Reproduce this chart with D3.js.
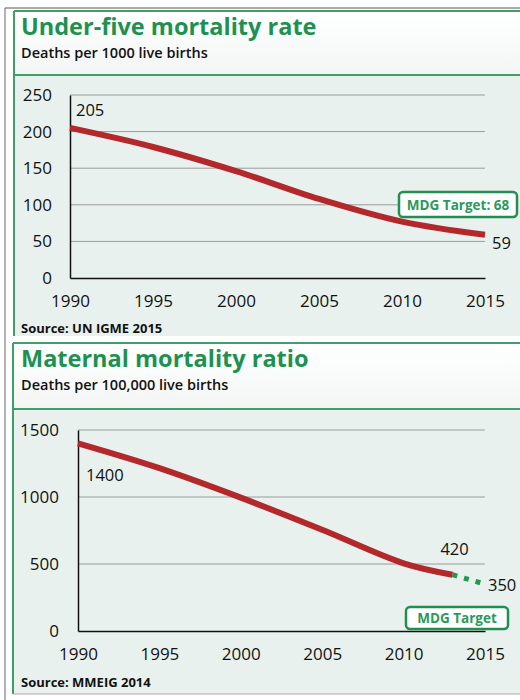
<!DOCTYPE html>
<html>
<head>
<meta charset="utf-8">
<script src="https://cdn.jsdelivr.net/npm/d3@7"></script>
<style>
  body { margin: 0; background: #fff; }
  text { font-family: "Open Sans", "Noto Sans", sans-serif; }
</style>
</head>
<body>
<div id="chart"></div>
<script>
// Data
var xTicks       = [1990, 1995, 2000, 2005, 2010, 2015];

var u5Years      = [1990, 1995, 2000, 2005, 2010, 2015];
var u5Values     = [205, 179, 146, 108, 77, 59];
var u5Ticks      = [0, 50, 100, 150, 200, 250];

var mmYears      = [1990, 1995, 2000, 2005, 2010, 2013];
var mmValues     = [1400, 1215, 995, 755, 505, 420];
var mmTargetYears  = [2013, 2015];
var mmTargetValues = [420, 350];
var mmTicks      = [0, 500, 1000, 1500];

var green = '#1d9150';
var border = '#3e9f6c';
var red = '#b3282b';

var svg = d3.select('#chart')
    .append('svg')
    .attr('width', 520)
    .attr('height', 700);

// outer frame
svg.append('line').attr('x1', 5).attr('x2', 520).attr('y1', 8).attr('y2', 8)
    .attr('stroke', '#555').attr('stroke-width', 1);
svg.append('line').attr('x1', 5).attr('x2', 5).attr('y1', 8).attr('y2', 700)
    .attr('stroke', '#666').attr('stroke-width', 1);

var defs = svg.append('defs');
var grad = defs.append('linearGradient').attr('id', 'hdr')
    .attr('x1', 0).attr('x2', 0).attr('y1', 0).attr('y2', 1);
grad.append('stop').attr('offset', '0%').attr('stop-color', '#ffffff');
grad.append('stop').attr('offset', '100%').attr('stop-color', '#f3f6f5');

function panel(o) {
    var g = svg.append('g');

    // header + plot backgrounds
    g.append('rect').attr('x', o.left).attr('y', o.top)
        .attr('width', 520 - o.left).attr('height', o.sep - o.top)
        .attr('fill', 'url(#hdr)');
    g.append('rect').attr('x', o.left).attr('y', o.sep)
        .attr('width', 520 - o.left).attr('height', o.bottom - o.sep)
        .attr('fill', '#e9f1ee');

    // borders
    g.append('line').attr('x1', o.left).attr('x2', 520).attr('y1', o.top).attr('y2', o.top)
        .attr('stroke', border).attr('stroke-width', 2);
    g.append('line').attr('x1', o.left).attr('x2', 520).attr('y1', o.sep).attr('y2', o.sep)
        .attr('stroke', border).attr('stroke-width', 2);
    g.append('line').attr('x1', o.left).attr('x2', o.left).attr('y1', o.top).attr('y2', o.bottom)
        .attr('stroke', border).attr('stroke-width', 2);
    if (o.bottomLine) {
        g.append('line').attr('x1', o.left).attr('x2', 520).attr('y1', o.bottom).attr('y2', o.bottom)
            .attr('stroke', '#aaa').attr('stroke-width', 1);
    }

    // titles
    g.append('text').attr('x', 21).attr('y', o.titleY)
        .attr('font-size', 23.5).attr('font-weight', 700).attr('fill', green)
        .text(o.title);
    g.append('text').attr('x', 21).attr('y', o.subY)
        .attr('font-size', 14.5).attr('font-weight', 600).attr('fill', '#111')
        .text(o.subtitle);
    g.append('text').attr('x', 21).attr('y', o.sourceY)
        .attr('font-size', 13).attr('font-weight', 700).attr('fill', '#111')
        .text(o.source);

    var x = d3.scaleLinear().domain([1990, 2015]).range([o.x0, 485]);
    var y = d3.scaleLinear().domain([0, d3.max(o.ticks)]).range([o.y0, o.y1]);

    // grid
    g.selectAll('.grid')
        .data(o.ticks.slice(1))
        .enter()
        .append('line')
        .attr('x1', o.x0).attr('x2', 485)
        .attr('y1', function(d){ return y(d); })
        .attr('y2', function(d){ return y(d); })
        .attr('stroke', '#9a9a9a')
        .attr('stroke-width', 1);

    // axes
    var yAxis = d3.axisLeft(y).tickValues(o.ticks).tickFormat(d3.format('d'))
        .tickSize(0).tickPadding(o.x0 - o.yLabelX);
    var ya = g.append('g').attr('transform', 'translate(' + o.x0 + ',0)').call(yAxis);
    ya.select('.domain').attr('stroke', '#111').attr('stroke-width', 1.5);
    ya.selectAll('text').attr('font-size', 17).attr('fill', '#111')
        .style('font-family', '"Open Sans", sans-serif');

    var xAxis = d3.axisBottom(x).tickValues(xTicks).tickFormat(d3.format('d'))
        .tickSize(0).tickPadding(17);
    var xa = g.append('g').attr('transform', 'translate(0,' + o.y0 + ')').call(xAxis);
    xa.select('.domain').attr('stroke', '#111').attr('stroke-width', 1.5);
    xa.selectAll('text').attr('font-size', 17).attr('fill', '#111')
        .style('font-family', '"Open Sans", sans-serif');

    var line = d3.line()
        .x(function(d){ return x(d[0]); })
        .y(function(d){ return y(d[1]); })
        .curve(d3.curveCatmullRom.alpha(0.5));

    if (o.targetYears) {
        g.append('path')
            .datum(d3.zip(o.targetYears, o.targetValues))
            .attr('d', d3.line().x(function(d){ return x(d[0]); }).y(function(d){ return y(d[1]); }))
            .attr('fill', 'none')
            .attr('stroke', '#1f9a50')
            .attr('stroke-width', 5)
            .attr('stroke-dasharray', '5,7');
    }

    g.append('path')
        .datum(d3.zip(o.years, o.values))
        .attr('d', line)
        .attr('fill', 'none')
        .attr('stroke', red)
        .attr('stroke-width', 6);

    // value labels
    o.labels.forEach(function(l){
        g.append('text')
            .attr('x', x(l.year) + l.dx)
            .attr('y', y(l.value) + l.dy)
            .attr('font-size', 16.5).attr('fill', '#111')
            .text(l.value);
    });

    // MDG target box
    var b = o.box;
    var bg = g.append('g');
    bg.append('rect').attr('x', b.x).attr('y', b.y).attr('width', b.w).attr('height', b.h)
        .attr('rx', 4).attr('fill', '#fff').attr('stroke', '#1f9050').attr('stroke-width', 2.5);
    bg.append('text').attr('x', b.x + b.w / 2).attr('y', b.y + b.h / 2 + 5)
        .attr('text-anchor', 'middle').attr('font-size', 13.5).attr('font-weight', 700)
        .attr('fill', '#2a9a5c').text(b.text);
}

panel({
    top: 11, sep: 75, bottom: 336, left: 14,
    title: 'Under-five mortality rate', titleY: 35,
    subtitle: 'Deaths per 1000 live births', subY: 58,
    source: 'Source: UN IGME 2015', sourceY: 333,
    x0: 70, y0: 278, y1: 95, yLabelX: 52,
    ticks: u5Ticks,
    years: u5Years, values: u5Values,
    labels: [
        { year: 1990, value: 205, dx: 6, dy: -12 },
        { year: 2015, value: 59, dx: 7, dy: 14 }
    ],
    box: { x: 399, y: 192, w: 118, h: 25, text: 'MDG Target: 68' }
});

panel({
    top: 343, sep: 409, bottom: 694, left: 13, bottomLine: true,
    title: 'Maternal mortality ratio', titleY: 367,
    subtitle: 'Deaths per 100,000 live births', subY: 390,
    source: 'Source: MMEIG 2014', sourceY: 687,
    x0: 78, y0: 631, y1: 430, yLabelX: 59,
    ticks: mmTicks,
    years: mmYears, values: mmValues,
    targetYears: mmTargetYears, targetValues: mmTargetValues,
    labels: [
        { year: 1990, value: 1400, dx: 8, dy: 38 },
        { year: 2013, value: 420, dx: -12, dy: -20 },
        { year: 2015, value: 350, dx: 3, dy: 7 }
    ],
    box: { x: 406, y: 607, w: 102, h: 22, text: 'MDG Target' }
});
</script>
</body>
</html>
